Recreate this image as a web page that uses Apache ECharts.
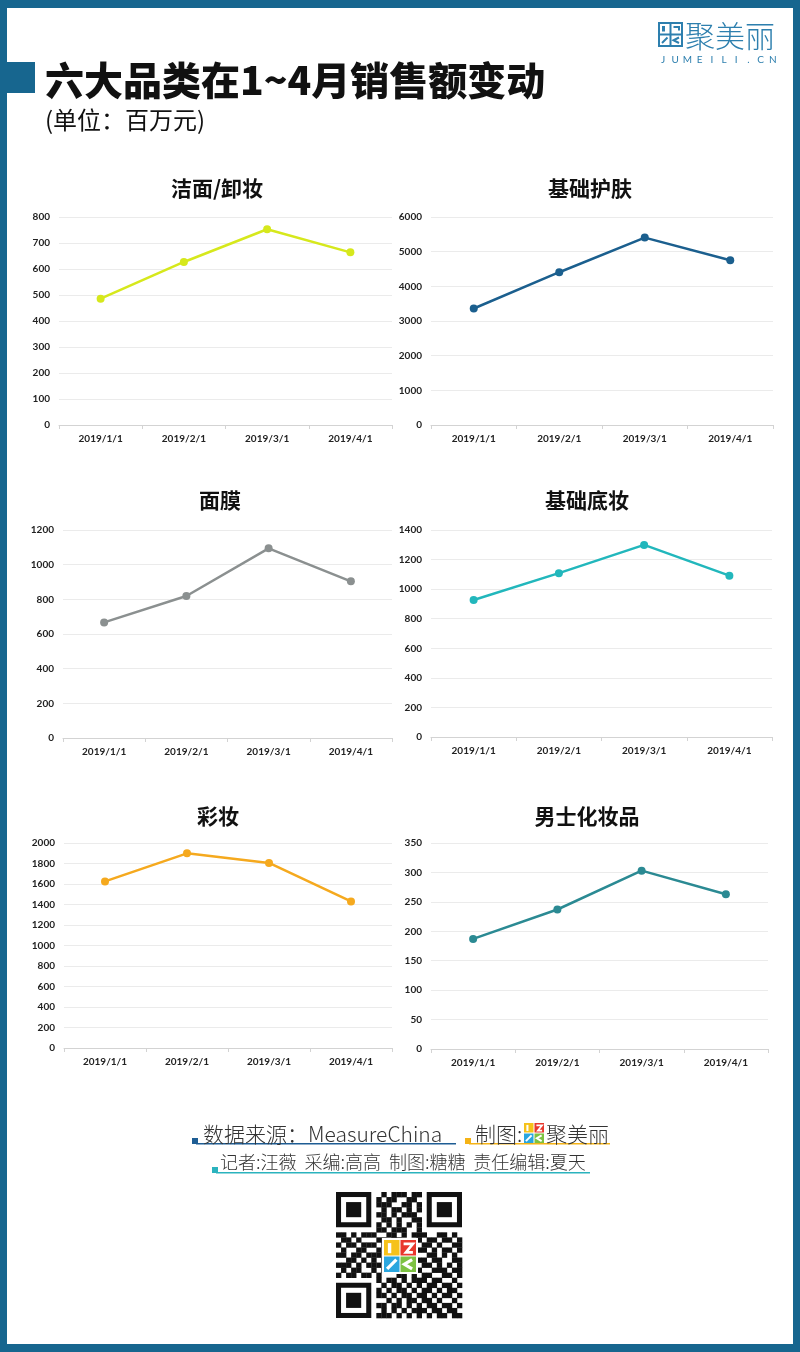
<!DOCTYPE html>
<html><head><meta charset="utf-8">
<script src="https://cdn.jsdelivr.net/npm/echarts@6/dist/echarts.min.js"></script>
<style>html,body{margin:0;padding:0;background:#fff}#c{width:800px;height:1352px}</style>
</head><body><div id="c"></div>
<script>
const categories = ['2019/1/1', '2019/2/1', '2019/3/1', '2019/4/1'];
const chartTitles = ['洁面/卸妆', '基础护肤', '面膜', '基础底妆', '彩妆', '男士化妆品'];
const cleansing = [486, 627, 753, 664];
const skincare = [3361, 4407, 5406, 4752];
const masks = [667, 819, 1094, 904];
const foundation = [927, 1108, 1299, 1091];
const makeup = [1625, 1899, 1805, 1430];
const menCosmetics = [187, 237, 303, 263];
const yMax = [800, 6000, 1200, 1400, 2000, 350];
const yStep = [100, 1000, 200, 200, 200, 50];
const mainTitle = '六大品类在1~4月销售额变动';
const unitText = '(单位：百万元)';
const sourceText = '数据来源：MeasureChina';
const madeByText = '制图:';
const brandText = '聚美丽';
const brandUrl = 'JUMEILI.CN';
const creditsText = '记者:汪薇  采编:高高  制图:糖糖  责任编辑:夏天';

const seriesData = [cleansing, skincare, masks, foundation, makeup, menCosmetics];
const colors = ['#d6e81c', '#1b5f8e', '#8b9090', '#22b7bc', '#f5a91e', '#2b8a93'];
const grids = [
  {left: 59, top: 217, width: 333, height: 208},
  {left: 431, top: 217, width: 342, height: 208},
  {left: 63, top: 530, width: 329, height: 208},
  {left: 431, top: 530, width: 341, height: 207},
  {left: 64, top: 843, width: 328, height: 205},
  {left: 431, top: 843, width: 337, height: 206}
];
const titlePos = [[217, 188], [590, 188], [220, 500], [587, 500], [218, 816], [587, 816]];

const BLUE = '#17668f';
const CJK = '"Noto Sans CJK SC", sans-serif';
const LAB = 'Lato, "Open Sans", sans-serif';

const graphic = [];
// frame
graphic.push({type:'rect', shape:{x:0,y:0,width:800,height:8}, style:{fill:BLUE}});
graphic.push({type:'rect', shape:{x:0,y:0,width:7,height:1352}, style:{fill:BLUE}});
graphic.push({type:'rect', shape:{x:793,y:0,width:7,height:1352}, style:{fill:BLUE}});
graphic.push({type:'rect', shape:{x:0,y:1344,width:800,height:8}, style:{fill:BLUE}});
graphic.push({type:'rect', shape:{x:0,y:62,width:35,height:31}, style:{fill:BLUE}});
// titles
graphic.push({type:'text', x:45, y:80, style:{text:mainTitle, font:'900 39px ' + CJK, fill:'#111', verticalAlign:'middle', textVerticalAlign:'middle'}});
graphic.push({type:'text', x:45, y:120, style:{text:unitText, font:'400 24px ' + CJK, fill:'#111', verticalAlign:'middle', textVerticalAlign:'middle'}});
chartTitles.forEach((t, i) => {
  graphic.push({type:'text', x:titlePos[i][0], y:titlePos[i][1], style:{text:t, font:'700 21px ' + CJK, fill:'#111', align:'center', textAlign:'center', verticalAlign:'middle', textVerticalAlign:'middle'}});
});
// top-right logo
const LB = '#2d7fae';
function logoIcon(x, y, s, col) {
  const g = [];
  const h = s / 2;
  g.push({type:'rect', shape:{x:x, y:y, width:s, height:s}, style:{fill:'none', stroke:col, lineWidth:2}});
  g.push({type:'line', shape:{x1:x+h, y1:y, x2:x+h, y2:y+s}, style:{stroke:col, lineWidth:2}});
  g.push({type:'line', shape:{x1:x, y1:y+h, x2:x+s, y2:y+h}, style:{stroke:col, lineWidth:2}});
  g.push({type:'rect', shape:{x:x+3, y:y+3, width:3, height:h-6}, style:{fill:col}});
  g.push({type:'polyline', shape:{points:[[x+h+3,y+4],[x+s-3,y+4],[x+s-3,y+h-4]]}, style:{stroke:col, lineWidth:2, fill:'none'}});
  g.push({type:'line', shape:{x1:x+3, y1:y+s-3, x2:x+h-3, y2:y+h+3}, style:{stroke:col, lineWidth:2}});
  g.push({type:'polyline', shape:{points:[[x+s-3,y+h+3],[x+h+3,y+h+h/2],[x+s-3,y+s-3]]}, style:{stroke:col, lineWidth:2, fill:'none'}});
  return g;
}
logoIcon(659, 23, 23, LB).forEach(e => graphic.push(e));
graphic.push({type:'text', x:685, y:36, style:{text:brandText, font:'300 30px ' + CJK, fill:LB, verticalAlign:'middle', textVerticalAlign:'middle'}});
brandUrl.split('').forEach((ch, i) => {
  graphic.push({type:'text', x:663 + i * 12.2, y:60, style:{text:ch, font:'400 10px ' + LAB, fill:LB, align:'center', textAlign:'center', verticalAlign:'middle', textVerticalAlign:'middle'}});
});
// footer
graphic.push({type:'rect', shape:{x:192,y:1138,width:6,height:6}, style:{fill:'#1e5d94'}});
graphic.push({type:'rect', shape:{x:196,y:1143,width:260,height:1.5}, style:{fill:'#1e5d94'}});
graphic.push({type:'text', x:203, y:1134, style:{text:sourceText, font:'300 21px ' + CJK, fill:'#333', verticalAlign:'middle', textVerticalAlign:'middle'}});
graphic.push({type:'rect', shape:{x:465,y:1138,width:6,height:6}, style:{fill:'#f5b316'}});
graphic.push({type:'rect', shape:{x:469,y:1143,width:141,height:1.5}, style:{fill:'#f5b316'}});
graphic.push({type:'text', x:475, y:1134, style:{text:madeByText, font:'300 21px ' + CJK, fill:'#333', verticalAlign:'middle', textVerticalAlign:'middle'}});
function colorLogo(x, y, s) {
  const h = s / 2 - 0.5;
  const g = [];
  g.push({type:'rect', shape:{x:x, y:y, width:h, height:h}, style:{fill:'#f6c21a'}});
  g.push({type:'rect', shape:{x:x+h+1, y:y, width:h, height:h}, style:{fill:'#e8372c'}});
  g.push({type:'rect', shape:{x:x, y:y+h+1, width:h, height:h}, style:{fill:'#2aa6df'}});
  g.push({type:'rect', shape:{x:x+h+1, y:y+h+1, width:h, height:h}, style:{fill:'#7dc242'}});
  g.push({type:'rect', shape:{x:x+h*0.25, y:y+h*0.2, width:h*0.22, height:h*0.65}, style:{fill:'#fff'}});
  g.push({type:'polyline', shape:{points:[[x+h+1+h*0.2,y+h*0.25],[x+h+1+h*0.8,y+h*0.25],[x+h+1+h*0.35,y+h*0.8],[x+h+1+h*0.8,y+h*0.8]]}, style:{stroke:'#fff', lineWidth:Math.max(1, s/12), fill:'none'}});
  g.push({type:'line', shape:{x1:x+h*0.2, y1:y+h+1+h*0.8, x2:x+h*0.8, y2:y+h+1+h*0.2}, style:{stroke:'#fff', lineWidth:Math.max(1, s/10)}});
  g.push({type:'polyline', shape:{points:[[x+h+1+h*0.75,y+h+1+h*0.2],[x+h+1+h*0.25,y+h+1+h*0.5],[x+h+1+h*0.75,y+h+1+h*0.8]]}, style:{stroke:'#fff', lineWidth:Math.max(1, s/10), fill:'none'}});
  return g;
}
colorLogo(524, 1123, 20).forEach(e => graphic.push(e));
graphic.push({type:'text', x:546, y:1134, style:{text:brandText, font:'300 21px ' + CJK, fill:'#333', verticalAlign:'middle', textVerticalAlign:'middle'}});
graphic.push({type:'rect', shape:{x:212,y:1167,width:6,height:6}, style:{fill:'#2bb3be'}});
graphic.push({type:'rect', shape:{x:216,y:1172,width:374,height:1.5}, style:{fill:'#2bb3be'}});
graphic.push({type:'text', x:220, y:1162, style:{text:creditsText, font:'300 18px ' + CJK, fill:'#333', verticalAlign:'middle', textVerticalAlign:'middle'}});

// QR-like code (decorative)
const qx = 336, qy = 1192, N = 25, m = 126 / N;
function finder(cx, cy) {
  graphic.push({type:'rect', shape:{x:qx+cx*m, y:qy+cy*m, width:7*m, height:7*m}, style:{fill:'#111'}});
  graphic.push({type:'rect', shape:{x:qx+(cx+1)*m, y:qy+(cy+1)*m, width:5*m, height:5*m}, style:{fill:'#fff'}});
  graphic.push({type:'rect', shape:{x:qx+(cx+2)*m, y:qy+(cy+2)*m, width:3*m, height:3*m}, style:{fill:'#111'}});
}
const qrRows = [
  '1111111001011101101111111',
  '1000001010110011001000001',
  '1011101011100110101011101',
  '1011101001011010101011101',
  '1011101011010111001011101',
  '1000001001101001101000001',
  '1111111010101010101111111',
  '0000000011011100100000000',
  '1101011100110101110011010',
  '0110100011011000101101101',
  '1011011101100110011010011',
  '0100110010011110110101101',
  '1101101110100111001101010',
  '0011010101011010110110011',
  '1110101110101101011010101',
  '0101100101110010100111011',
  '1011011010001101011001101',
  '0000000010110101110110010',
  '1111111001011010101101101',
  '1000001010101101011010110',
  '1011101011010110110101101',
  '1011101000101011011010010',
  '1011101011011010101101101',
  '1000001001010101110110110',
  '1111111011101010101011011'
];
qrRows.forEach((row, r) => {
  for (let c = 0; c < N; c++) {
    const inFinder = (r < 8 && c < 8) || (r < 8 && c > 16) || (r > 16 && c < 8);
    if (!inFinder && row[c] === '1') {
      graphic.push({type:'rect', shape:{x:qx+c*m, y:qy+r*m, width:m+0.3, height:m+0.3}, style:{fill:'#111'}});
    }
  }
});
finder(0, 0); finder(18, 0); finder(0, 18);
graphic.push({type:'rect', shape:{x:382, y:1238, width:36, height:36}, style:{fill:'#fff'}});
colorLogo(384, 1240, 32).forEach(e => graphic.push(e));

const option = {
  animation: false,
  backgroundColor: '#fff',
  grid: grids.map(g => Object.assign({containLabel:false}, g)),
  xAxis: grids.map((g, i) => ({
    type:'category', gridIndex:i, data:categories, boundaryGap:true,
    axisLine:{lineStyle:{color:'#d3d3d3', width:1}},
    axisTick:{show:true, length:4, lineStyle:{color:'#d3d3d3'}},
    axisLabel:{fontSize:10, fontWeight:'bold', color:'#222', fontFamily:LAB, margin:9}
  })),
  yAxis: grids.map((g, i) => ({
    type:'value', gridIndex:i, min:0, max:yMax[i], interval:yStep[i],
    axisLine:{show:false}, axisTick:{show:false},
    axisLabel:{fontSize:10, fontWeight:'bold', color:'#222', fontFamily:LAB, margin:9, formatter: v => String(v)},
    splitLine:{lineStyle:{color:'#ebebeb', width:1}}
  })),
  series: seriesData.map((d, i) => ({
    type:'line', xAxisIndex:i, yAxisIndex:i, data:d,
    symbol:'circle', symbolSize:8,
    lineStyle:{color:colors[i], width:2.5},
    itemStyle:{color:colors[i]}
  })),
  graphic: graphic
};
const chart = echarts.init(document.getElementById('c'), null, {renderer:'canvas'});
chart.setOption(option);
</script>
</body></html>
